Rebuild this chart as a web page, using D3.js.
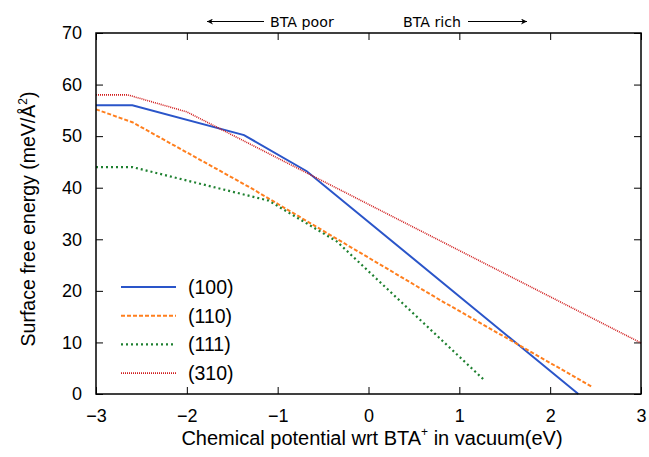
<!DOCTYPE html>
<html lang="en">
    <head>
        <meta charset="utf-8">
        <title>Surface free energy</title>
        <script src="https://cdn.jsdelivr.net/npm/d3@7/dist/d3.min.js" charset="utf-8"></script>
        <style type="text/css">
            body { margin: 0; background: #fff; }
            text { font-family: "Liberation Sans", Arial, sans-serif; }
        </style>
    </head>
    <body>
        <svg width="649" height="457"></svg>
        <script>
            // Datos (x = potencial quimico, y = energia libre)
            var xTicks = [-3, -2, -1, 0, 1, 2, 3];
            var yTicks = [0, 10, 20, 30, 40, 50, 60, 70];
            var surfaces = ["(100)", "(110)", "(111)", "(310)"];

            var x100 = [-3, -2.6, -1.37, -0.68, 2.31];
            var y100 = [56, 56, 50.2, 43.2, 0];
            var x110 = [-3, -2.6, -1.3, 0.79, 2.47];
            var y110 = [55.2, 52.7, 40.0, 18.2, 1.3];
            var x111 = [-3, -2.6, -1.1, -0.35, 1.28];
            var y111 = [44, 44, 37.5, 29.6, 2.6];
            var x310 = [-3, -2.65, -2.0, 3];
            var y310 = [58, 58, 54.7, 9.9];

            var colors = ["#2a55c9", "#ff7f1e", "#1e8030", "#d01c1c"];
            var dashes = [null, "4,2", "2,3", "1,1"];
            var widths = [2, 2, 2.2, 1.6];

            var svg = d3.select("svg"),
                margin = {top: 33, right: 8, bottom: 63, left: 96},
                g = svg.append("g").attr("transform", "translate(" + margin.left + "," + margin.top + ")");

            var x = d3.scaleLinear().domain([-3, 3]).range([0, 545]);
            var y = d3.scaleLinear().domain([0, 70]).range([361, 0]);

            var series = [
                {xs: x100, ys: y100},
                {xs: x110, ys: y110},
                {xs: x111, ys: y111},
                {xs: x310, ys: y310}
            ];

            var line = d3.line()
                .x(function(d) { return x(d[0]); })
                .y(function(d) { return y(d[1]); });

            // Ejes (ticks hacia dentro, espejados arriba y a la derecha)
            var fmt = function(d) { return d < 0 ? "\u2212" + Math.abs(d) : "" + d; };

            g.append("g")
                .attr("transform", "translate(0," + y(0) + ")")
                .call(d3.axisBottom(x).tickValues(xTicks).tickFormat(fmt).tickSizeInner(-7).tickSizeOuter(0).tickPadding(15));
            g.append("g")
                .call(d3.axisLeft(y).tickValues(yTicks).tickSizeInner(-7).tickSizeOuter(0).tickPadding(14));
            g.append("g")
                .call(d3.axisTop(x).tickValues(xTicks).tickFormat("").tickSizeInner(-7).tickSizeOuter(0));
            g.append("g")
                .attr("transform", "translate(" + x(3) + ",0)")
                .call(d3.axisRight(y).tickValues(yTicks).tickFormat("").tickSizeInner(-7).tickSizeOuter(0));

            g.selectAll(".domain").remove();
            g.selectAll(".tick line").attr("stroke", "#000").attr("stroke-width", 1);
            g.selectAll(".tick text")
                .attr("fill", "#000")
                .style("font-size", "18px");

            // Curvas
            g.append("g").selectAll("path")
                .data(series)
                .enter().append("path")
                .attr("d", function(s) { return line(s.xs.map(function(v, i) { return [v, s.ys[i]]; })); })
                .attr("fill", "none")
                .attr("stroke", function(s, i) { return colors[i]; })
                .attr("stroke-width", function(s, i) { return widths[i]; })
                .attr("stroke-dasharray", function(s, i) { return dashes[i]; });

            // Marco
            g.append("rect")
                .attr("x", 0).attr("y", 0)
                .attr("width", x(3)).attr("height", y(0))
                .attr("fill", "none")
                .attr("stroke", "#000")
                .attr("stroke-width", 1.5);

            // Leyenda
            var legend = g.append("g")
                .selectAll("g")
                .data(surfaces)
                .enter().append("g")
                .attr("transform", function(d, i) { return "translate(25," + (254 + i * 28.7) + ")"; });
            legend.append("line")
                .attr("x1", 0).attr("x2", 55)
                .attr("stroke", function(d, i) { return colors[i]; })
                .attr("stroke-width", function(d, i) { return widths[i]; })
                .attr("stroke-dasharray", function(d, i) { return dashes[i]; });
            legend.append("text")
                .attr("x", 67)
                .attr("dy", "0.35em")
                .style("font-size", "19.5px")
                .text(function(d) { return d; });

            // Titulos de ejes
            svg.append("text")
                .attr("x", 372)
                .attr("y", 445)
                .attr("text-anchor", "middle")
                .style("font-size", "20px")
                .html("Chemical potential wrt BTA<tspan dy=\"-9\" font-size=\"12px\">+</tspan><tspan dy=\"9\"> in vacuum(eV)</tspan>");
            svg.append("text")
                .attr("transform", "translate(35,219) rotate(-90)")
                .attr("text-anchor", "middle")
                .style("font-size", "19.5px")
                .html("Surface free energy (meV/\u00c5<tspan dy=\"-8\" font-size=\"12px\">2</tspan><tspan dy=\"8\">)</tspan>");

            // Anotacion superior con flechas
            svg.append("defs").append("marker")
                .attr("id", "arrow")
                .attr("viewBox", "0 0 10 10")
                .attr("refX", 10).attr("refY", 5)
                .attr("markerWidth", 10).attr("markerHeight", 6)
                .attr("markerUnits", "userSpaceOnUse")
                .attr("orient", "auto")
                .append("path")
                .attr("d", "M0,0 L10,5 L0,10 L3,5 Z")
                .attr("fill", "#000");

            svg.append("line")
                .attr("x1", 264).attr("y1", 21.5).attr("x2", 207).attr("y2", 21.5)
                .attr("stroke", "#000").attr("stroke-width", 1.2)
                .attr("marker-end", "url(#arrow)");
            svg.append("text")
                .attr("x", 270).attr("y", 26.5)
                .style("font-family", "DejaVu Sans")
                .style("font-size", "14.2px")
                .text("BTA poor");
            svg.append("text")
                .attr("x", 403).attr("y", 26.5)
                .style("font-family", "DejaVu Sans")
                .style("font-size", "14.2px")
                .text("BTA rich");
            svg.append("line")
                .attr("x1", 468).attr("y1", 21.5).attr("x2", 527).attr("y2", 21.5)
                .attr("stroke", "#000").attr("stroke-width", 1.2)
                .attr("marker-end", "url(#arrow)");
        </script>
    </body>
</html>
